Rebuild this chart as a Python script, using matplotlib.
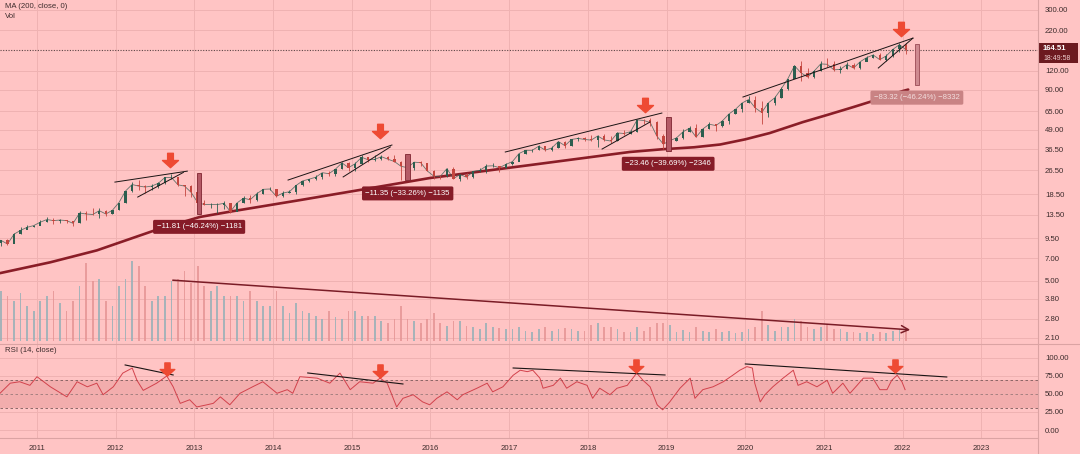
import matplotlib
matplotlib.use('Agg')
import matplotlib.pyplot as plt
import numpy as np
from matplotlib.path import Path
from matplotlib.patches import Rectangle
from matplotlib.lines import Line2D
from matplotlib.ticker import NullLocator

plt.rcParams['font.family'] = ['Liberation Sans', 'DejaVu Sans']

# monthly candles, Jul 2010 .. Jan 2022
first_open = 8.9
closes = [9.2, 8.7, 10.1, 10.7, 11.2, 11.5,
          12.1, 12.6, 12.4, 12.5, 12.4, 11.9, 13.9, 13.7, 13.6, 14.4, 13.7, 14.5,
          16.3, 19.4, 21.4, 20.9, 20.6, 20.9, 21.8, 23.8, 23.8, 21.3, 20.9, 19.0,
          16.3, 15.8, 15.8, 15.8, 16.1, 14.2, 16.2, 17.4, 17.0, 18.6, 19.9, 20.0,
          17.9, 18.8, 19.2, 21.1, 22.6, 23.2, 23.9, 25.6, 25.2, 27.0, 29.7, 27.6,
          29.3, 32.3, 31.1, 31.3, 32.6, 31.4, 30.3, 28.2, 27.6, 30.0, 29.8, 26.3,
          24.3, 24.2, 27.2, 23.4, 24.9, 23.9, 26.1, 26.5, 28.3, 28.4, 27.6, 29.0,
          30.3, 34.2, 35.9, 35.9, 38.2, 36.0, 37.2, 41.0, 38.5, 42.3, 43.0, 42.3,
          41.9, 44.6, 42.0, 41.3, 46.7, 46.3, 47.6, 56.9, 56.4, 54.7, 44.6, 39.4,
          41.6, 43.3, 47.5, 50.2, 43.8, 49.5, 53.3, 52.2, 56.0, 62.2, 66.8, 73.4,
          77.4, 68.3, 63.6, 73.5, 79.5, 91.2, 106.3, 129.0, 115.8, 108.9, 119.1, 132.7,
          131.9, 121.3, 122.2, 131.5, 124.6, 137.0, 145.9, 151.8, 141.5, 149.8, 165.3, 177.6,
          164.5]
highs = [9.3, 9.4, 10.3, 11.2, 11.6, 11.6,
         12.5, 13.0, 12.9, 12.7, 12.5, 12.4, 14.3, 14.3, 15.1, 15.0, 14.5, 14.6,
         16.3, 19.5, 22.2, 22.9, 21.2, 21.5, 22.1, 24.1, 25.2, 23.9, 21.4, 21.2,
         19.8, 17.0, 16.3, 16.1, 16.6, 16.2, 16.3, 18.0, 18.4, 19.1, 20.1, 20.6,
         20.0, 19.5, 19.6, 21.2, 22.7, 23.4, 24.6, 25.6, 26.3, 27.0, 30.0, 30.0,
         30.3, 33.4, 32.6, 33.6, 33.2, 32.9, 33.2, 30.6, 29.0, 30.3, 30.6, 29.7,
         26.5, 24.7, 27.6, 28.1, 25.2, 25.5, 26.1, 27.6, 29.0, 29.7, 28.4, 29.5,
         30.6, 34.4, 36.1, 36.4, 39.2, 38.5, 38.5, 41.2, 41.2, 42.4, 44.1, 43.9,
         45.0, 45.1, 45.9, 44.7, 47.6, 48.5, 48.9, 57.2, 57.4, 58.4, 55.6, 46.2,
         42.3, 43.9, 49.4, 52.1, 53.8, 50.4, 55.3, 53.6, 56.6, 62.4, 67.0, 73.5,
         81.9, 81.8, 76.0, 73.6, 81.1, 93.1, 106.4, 131.0, 137.9, 125.4, 121.0, 138.8,
         145.1, 137.9, 128.7, 137.1, 134.1, 137.4, 150.0, 153.5, 157.3, 153.2, 165.7, 182.1,
         182.9]
lows = [8.5, 8.6, 8.9, 10.2, 10.9, 11.2,
        11.6, 12.1, 11.7, 11.9, 11.9, 11.4, 11.9, 12.5, 13.5, 12.9, 13.2, 13.6,
        14.5, 16.2, 19.0, 19.6, 18.9, 19.8, 20.2, 21.5, 23.3, 21.0, 18.1, 17.6,
        15.9, 15.6, 14.9, 13.9, 14.8, 13.9, 14.3, 16.2, 16.3, 16.6, 18.6, 19.6,
        17.6, 17.7, 18.7, 18.6, 20.9, 22.1, 23.0, 23.3, 24.3, 24.2, 27.0, 26.3,
        26.2, 29.4, 30.1, 30.6, 30.8, 31.1, 30.2, 23.0, 26.8, 26.8, 28.5, 26.2,
        23.1, 23.1, 24.1, 23.3, 22.4, 23.2, 23.6, 25.9, 25.6, 27.9, 26.0, 27.6,
        28.7, 31.8, 34.1, 35.0, 36.1, 35.6, 35.6, 37.1, 37.3, 38.1, 41.3, 41.6,
        41.2, 37.6, 41.2, 40.2, 41.3, 45.2, 45.9, 47.1, 53.8, 51.5, 42.6, 36.6,
        35.5, 41.5, 42.4, 47.1, 43.7, 43.7, 49.7, 48.1, 51.1, 53.8, 62.3, 64.1,
        73.2, 64.1, 53.2, 59.2, 71.6, 79.3, 89.1, 107.9, 103.1, 107.7, 107.3, 120.0,
        126.4, 118.4, 116.2, 122.5, 122.3, 123.1, 137.9, 144.5, 141.3, 138.3, 147.5, 157.8,
        154.7]
volume = [50, 45, 40, 48, 35, 30,
          40, 45, 50, 38, 30, 40, 55, 78, 60, 62, 40, 35,
          55, 62, 80, 75, 55, 40, 45, 45, 60, 62, 70, 58,
          75, 55, 50, 55, 45, 45, 45, 40, 50, 40, 35, 35,
          50, 35, 28, 38, 30, 28, 25, 22, 30, 24, 22, 30,
          30, 25, 25, 25, 20, 18, 22, 35, 22, 20, 18, 22,
          28, 18, 15, 20, 20, 15, 14, 12, 18, 14, 13, 12,
          12, 14, 10, 9, 12, 14, 10, 12, 13, 12, 10, 10,
          16, 18, 14, 14, 12, 9, 9, 14, 10, 14, 18, 18,
          16, 9, 11, 9, 14, 10, 9, 12, 9, 10, 8, 9,
          12, 14, 30, 16, 10, 14, 14, 22, 20, 14, 12, 14,
          16, 12, 12, 9, 9, 8, 9, 7, 9, 8, 10, 12,
          12]

# 200 MA
ma_t = [2010.53, 2011.17, 2011.76, 2012.52, 2013.07, 2013.49, 2014.34, 2015.10, 2015.99,
        2017.26, 2018.53, 2018.95, 2019.35, 2019.68, 2020.00, 2020.31, 2020.73, 2021.05,
        2021.37, 2021.70, 2022.00, 2022.07]
ma_v = [5.6, 6.6, 7.9, 10.8, 13.1, 14.3, 16.9, 19.7, 23.6,
        28.7, 35.0, 36.5, 37.6, 39.2, 42.4, 46.6, 55.0, 61.5,
        69.0, 78.0, 88.0, 90.0]

# RSI (14)
rsi_t = [2010.53, 2010.66, 2010.78, 2010.91, 2011.00, 2011.17, 2011.38, 2011.51, 2011.64, 2011.76,
         2011.84, 2011.97, 2012.09, 2012.21, 2012.27, 2012.35, 2012.52, 2012.65, 2012.73, 2012.82,
         2012.94, 2013.03, 2013.16, 2013.24, 2013.33, 2013.45, 2013.58, 2013.74, 2013.87, 2014.05,
         2014.18, 2014.25, 2014.34, 2014.56, 2014.72, 2014.85, 2014.98, 2015.10, 2015.27, 2015.36,
         2015.45, 2015.57, 2015.65, 2015.78, 2015.90, 2015.99, 2016.08, 2016.21, 2016.34, 2016.41,
         2016.59, 2016.72, 2016.79, 2016.92, 2017.05, 2017.14, 2017.23, 2017.30, 2017.39, 2017.43,
         2017.56, 2017.65, 2017.73, 2017.86, 2017.99, 2018.06, 2018.15, 2018.28, 2018.37, 2018.50,
         2018.62, 2018.70, 2018.79, 2018.88, 2018.95, 2019.04, 2019.17, 2019.30, 2019.36, 2019.46,
         2019.59, 2019.72, 2019.84, 2019.93, 2020.02, 2020.09, 2020.12, 2020.19, 2020.25, 2020.35,
         2020.48, 2020.61, 2020.67, 2020.78, 2020.91, 2021.04, 2021.11, 2021.24, 2021.33, 2021.42,
         2021.50, 2021.62, 2021.71, 2021.80, 2021.86, 2021.93, 2021.99, 2022.03]
rsi_v = [51, 65, 67, 62, 74, 60, 46, 67, 60, 65,
         49, 60, 79, 86, 69, 55, 65, 75, 60, 37,
         42, 32, 35, 37, 46, 35, 51, 60, 67, 51,
         56, 51, 74, 72, 65, 79, 56, 67, 65, 72,
         65, 32, 44, 49, 39, 35, 44, 53, 42, 49,
         58, 65, 53, 60, 76, 83, 81, 83, 72, 58,
         62, 72, 58, 67, 62, 44, 58, 49, 58, 62,
         79, 69, 60, 35, 28, 39, 58, 72, 44, 56,
         60, 67, 76, 83, 88, 86, 65, 39, 49, 60,
         72, 83, 62, 67, 60, 69, 51, 65, 51, 62,
         72, 72, 56, 56, 69, 76, 67, 56]

# drawdown measurements
dd_t = [2013.06, 2015.71, 2019.02, 2022.18]
dd_top = [25.54, 34.12, 59.11, 180.2]
dd_bot = [13.73, 22.77, 35.65, 96.9]
dd_text = ['\u221211.81 (\u221246.24%) \u22121181', '\u221211.35 (\u221233.26%) \u22121135',
           '\u221223.46 (\u221239.69%) \u22122346', '\u221283.32 (\u221246.24%) \u22128332']

# red arrows
arr_t = [2012.69, 2015.36, 2018.73, 2021.98]
arr_p = [31.0, 48.1, 71.2, 225.0]
rarr_t = [2012.65, 2015.36, 2018.61, 2021.90]
rarr_v = [84.7, 81.9, 88.9, 88.9]

# trend lines (start, end)
price_lines = [((2011.99, 22.2), (2012.91, 26.2)), ((2012.28, 17.7), (2012.86, 25.7)),
               ((2014.19, 22.9), (2015.51, 38.9)), ((2014.89, 24.0), (2015.49, 37.8)),
               ((2016.95, 35.0), (2018.94, 63.1)), ((2018.18, 36.6), (2018.79, 55.1)),
               ((2019.97, 80.4), (2022.13, 196.0)), ((2021.69, 124.7), (2022.13, 196.0))]
rsi_lines = [((2012.12, 90.3), (2012.73, 76.4)), ((2014.44, 79.2), (2015.65, 63.9)),
             ((2017.05, 86.1), (2018.98, 76.4)), ((2020.00, 91.7), (2022.56, 73.6))]
vol_line = ((2012.69, 61), (2022.13, 11))

last_price = 164.51
price_ticks = [2.1, 2.8, 3.8, 5, 7, 9.5, 13.5, 18.5, 26.5, 36.5, 49, 65, 90, 120, 220, 300]
rsi_ticks = [0, 25, 50, 75, 100]
years = list(range(2011, 2024))

BG = '#ffc4c4'
GRID = '#efb2b2'
TXT = '#3d2c2c'
UP = '#2c5e4f'
DOWN = '#c4463f'
MA_C = '#8a1d27'
ARROW_C = '#ee4a33'

W, H = 1080, 454


def rect(x0, y0, x1, y1):
    return [x0 / W, 1 - y1 / H, (x1 - x0) / W, (y1 - y0) / H]


fig = plt.figure(figsize=(W / 100, H / 100), dpi=100, facecolor=BG)
ax = fig.add_axes(rect(0, 0, 1038, 344))
axv = fig.add_axes(rect(0, 241, 1038, 341))
axr = fig.add_axes(rect(0, 344, 1038, 438))

xlim = (2010.530, 2023.719)
t = 2010.5 + (np.arange(len(closes)) + 0.5) / 12
c = np.array(closes)
o = np.array([first_open] + closes[:-1])
up = c >= o
col = np.where(up, UP, DOWN)

# ---- price pane
ax.set_facecolor(BG)
ax.set_yscale('log')
ax.set_xlim(*xlim)
ax.set_ylim(1.917, 348.9)
ax.plot(t, c, color='#3e5e56', lw=0.6, alpha=0.8, zorder=3)
ax.vlines(t, lows, highs, colors=col, lw=0.6, zorder=3)
ax.bar(t, np.abs(c - o), bottom=np.minimum(c, o), width=0.03, color=col, lw=0, zorder=3)
ax.plot(ma_t, ma_v, color=MA_C, lw=1.9, zorder=2, solid_capstyle='round')
ax.axhline(last_price, color='#5a4545', lw=0.8, ls=(0, (1, 1.4)), zorder=2)
for (x0, y0), (x1, y1) in price_lines:
    ax.plot([x0, x1], [y0, y1], color='#1a1414', lw=0.7, zorder=4)

arrow = Path([(-0.36, 0.9), (0.36, 0.9), (0.36, 0.0), (1.0, 0.0), (0.0, -0.9), (-1.0, 0.0),
              (-0.36, 0.0), (-0.36, 0.9)],
             [Path.MOVETO] + [Path.LINETO] * 6 + [Path.CLOSEPOLY])
ax.plot(arr_t, arr_p, ls='none', marker=arrow, ms=11.5, color=ARROW_C, mec=ARROW_C, zorder=6)

for i in range(len(dd_t)):
    light = i == len(dd_t) - 1
    ax.bar(dd_t[i], dd_top[i] - dd_bot[i], bottom=dd_bot[i], width=0.06,
           color='#cf8a90' if light else '#b55a66', edgecolor='#9a4a55' if light else '#7e2430',
           lw=0.6, zorder=5)
    ax.annotate(dd_text[i], xy=(dd_t[i], dd_bot[i]), xytext=(0, -13), textcoords='offset pixels',
                ha='center', va='center', fontsize=5.6,
                color='#f3dede' if light else 'white', zorder=7,
                bbox=dict(boxstyle='round,pad=0.45,rounding_size=0.2',
                          fc='#c98384' if light else '#861c28', ec='none'))

ax.yaxis.tick_right()
ax.set_yticks(price_ticks)
ax.set_yticklabels(['%.2f' % v for v in price_ticks])
ax.yaxis.set_minor_locator(NullLocator())
ax.set_xticks(years)
ax.tick_params(axis='y', length=0, pad=5, labelsize=5.6, labelcolor=TXT)
ax.tick_params(axis='x', length=0, labelbottom=False)
ax.grid(True, color=GRID, lw=0.7)
ax.set_axisbelow(True)
for s in ax.spines.values():
    s.set_visible(False)

# ---- volume overlay
axv.set_facecolor('none')
axv.set_xlim(*xlim)
axv.set_ylim(0, 100)
axv.bar(t, volume, width=0.022, color=np.where(up, '#98b0b8', '#e69595'), lw=0, alpha=0.85)
axv.annotate('', xy=vol_line[1], xytext=vol_line[0],
             arrowprops=dict(arrowstyle='->', color='#7a1c26', lw=1.1, mutation_scale=13))
axv.axis('off')

# ---- RSI pane
axr.set_facecolor(BG)
axr.set_xlim(*xlim)
axr.set_ylim(-11.1, 119.4)
axr.axhspan(30, 70, color='#f2adad', lw=0, zorder=1)
for lvl, cl in [(70, '#7a5a5a'), (50, '#9a7a7a'), (30, '#7a5a5a')]:
    axr.axhline(lvl, color=cl, lw=0.6, ls=(0, (3, 3)), zorder=2)
axr.plot(rsi_t, rsi_v, color='#d2424c', lw=0.7, zorder=3)
for (x0, y0), (x1, y1) in rsi_lines:
    axr.plot([x0, x1], [y0, y1], color='#1a1414', lw=0.8, zorder=4)
axr.plot(rarr_t, rarr_v, ls='none', marker=arrow, ms=10.5, color=ARROW_C, mec=ARROW_C, zorder=6)
axr.yaxis.tick_right()
axr.set_yticks(rsi_ticks)
axr.set_yticklabels(['%.2f' % v for v in rsi_ticks])
axr.set_xticks(years)
axr.set_xticklabels([str(y) for y in years])
axr.tick_params(axis='y', length=0, pad=5, labelsize=5.6, labelcolor=TXT)
axr.tick_params(axis='x', length=0, pad=5, labelsize=5.6, labelcolor=TXT)
axr.grid(True, color=GRID, lw=0.7, zorder=0)
axr.set_axisbelow(True)
for s in axr.spines.values():
    s.set_visible(False)

# pane separators
fig.add_artist(Line2D([1038 / W, 1038 / W], [0, 1], color='#dba3a3', lw=0.8))
fig.add_artist(Line2D([0, 1], [1 - 344 / H, 1 - 344 / H], color='#dba3a3', lw=0.8))
fig.add_artist(Line2D([0, 1038 / W], [1 - 438 / H, 1 - 438 / H], color='#dba3a3', lw=0.8))

# legends / headers
fig.text(5 / W, 1 - 7 / H, 'MA (200, close, 0)', fontsize=5.6, color=TXT, va='center')
fig.text(5 / W, 1 - 17 / H, 'Vol', fontsize=5.6, color=TXT, va='center')
fig.text(5 / W, 1 - 351 / H, 'RSI (14, close)', fontsize=5.6, color=TXT, va='center')

# last price tag
fig.add_artist(Rectangle((1039 / W, 1 - 63 / H), 39 / W, 20 / H, transform=fig.transFigure,
                         fc='#6c1a20', ec='none'))
fig.text(1043 / W, 1 - 48 / H, '%.2f' % last_price, fontsize=5.6, color='white',
         va='center', fontweight='bold')
fig.text(1043 / W, 1 - 58 / H, '18:49:58', fontsize=5.0, color='#f0d0d0', va='center')

fig.savefig('out.png', dpi=100, facecolor=BG)
